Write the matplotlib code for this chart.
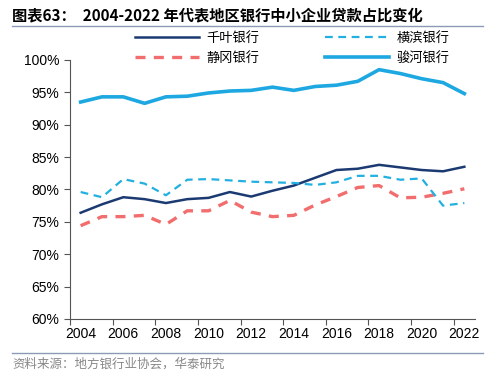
import matplotlib.pyplot as plt
from matplotlib.lines import Line2D

plt.rcParams['font.family'] = ['Liberation Sans', 'Noto Sans CJK SC', 'DejaVu Sans']

years = list(range(2004, 2023))

# 千叶银行
chiba = [76.4, 77.7, 78.8, 78.5, 77.9, 78.5, 78.7, 79.6, 78.9, 79.8, 80.6,
         81.8, 83.0, 83.2, 83.8, 83.4, 83.0, 82.8, 83.5]
# 横滨银行
yokohama = [79.6, 78.8, 81.6, 80.9, 79.1, 81.5, 81.6, 81.4, 81.2, 81.1, 81.0,
            80.7, 81.1, 82.1, 82.1, 81.5, 81.7, 77.5, 77.9]
# 静冈银行
shizuoka = [74.4, 75.8, 75.8, 76.0, 74.6, 76.7, 76.7, 78.3, 76.5, 75.8, 76.0,
            77.6, 78.9, 80.3, 80.6, 78.7, 78.8, 79.4, 80.1]
# 骏河银行
suruga = [93.5, 94.3, 94.3, 93.3, 94.3, 94.4, 94.9, 95.2, 95.3, 95.8, 95.3,
          95.9, 96.1, 96.7, 98.5, 97.9, 97.1, 96.5, 94.8]

yticks = [60, 65, 70, 75, 80, 85, 90, 95, 100]
xlabels = list(range(2004, 2023, 2))

fig = plt.figure(figsize=(5, 3.77), dpi=100)
ax = fig.add_axes([0.14, 0.154, 0.81, 0.687])

l1, = ax.plot(years, chiba, color='#1c3a72', linewidth=1.8, label='千叶银行')
l3, = ax.plot(years, shizuoka, color='#f26d6d', linewidth=2.4,
              linestyle=(0, (3, 2.5)), label='静冈银行')
l2, = ax.plot(years, yokohama, color='#22b0e0', linewidth=1.6,
              linestyle=(0, (3.5, 2.5)), label='横滨银行')
l4, = ax.plot(years, suruga, color='#1ea8e2', linewidth=2.6, label='骏河银行')

ax.set_ylim(60, 100)
ax.set_yticks(yticks)
ax.set_yticklabels([f'{v}%' for v in yticks], fontsize=10)
ax.set_xlim(2003.5, 2022.5)
ax.set_xticks([y - 0.5 for y in xlabels])
ax.set_xticklabels([])
ax.set_xticks(xlabels, minor=True)
ax.set_xticklabels([str(y) for y in xlabels], minor=True, fontsize=10)
ax.tick_params(axis='x', which='minor', length=0, pad=6)
ax.tick_params(axis='both', which='major', color='#555555', length=4)
for s in ['top', 'right']:
    ax.spines[s].set_visible(False)
for s in ['left', 'bottom']:
    ax.spines[s].set_color('#555555')

fig.legend(handles=[l1, l3, l2, l4], ncol=2, frameon=False,
           loc='center', bbox_to_anchor=(0.585, 0.872), columnspacing=5,
           handlelength=4.8, handletextpad=0.6, labelspacing=0.55,
           prop={'family': ['Noto Sans CJK SC'], 'size': 9.5})

fig.text(0.024, 0.958, '图表63：  2004-2022 年代表地区银行中小企业贷款占比变化',
         fontsize=11, fontweight='bold', va='center', ha='left',
         family=['Noto Sans CJK SC'])
fig.add_artist(Line2D([0.024, 0.966], [0.932, 0.932], color='#8c9bb5', linewidth=1))
fig.add_artist(Line2D([0.024, 0.966], [0.064, 0.064], color='#8c9bb5', linewidth=1))
fig.text(0.024, 0.034, '资料来源：地方银行业协会，华泰研究', fontsize=9,
         color='#888888', va='center', ha='left', family=['Noto Sans CJK SC'])

fig.savefig('out.png', dpi=100)
